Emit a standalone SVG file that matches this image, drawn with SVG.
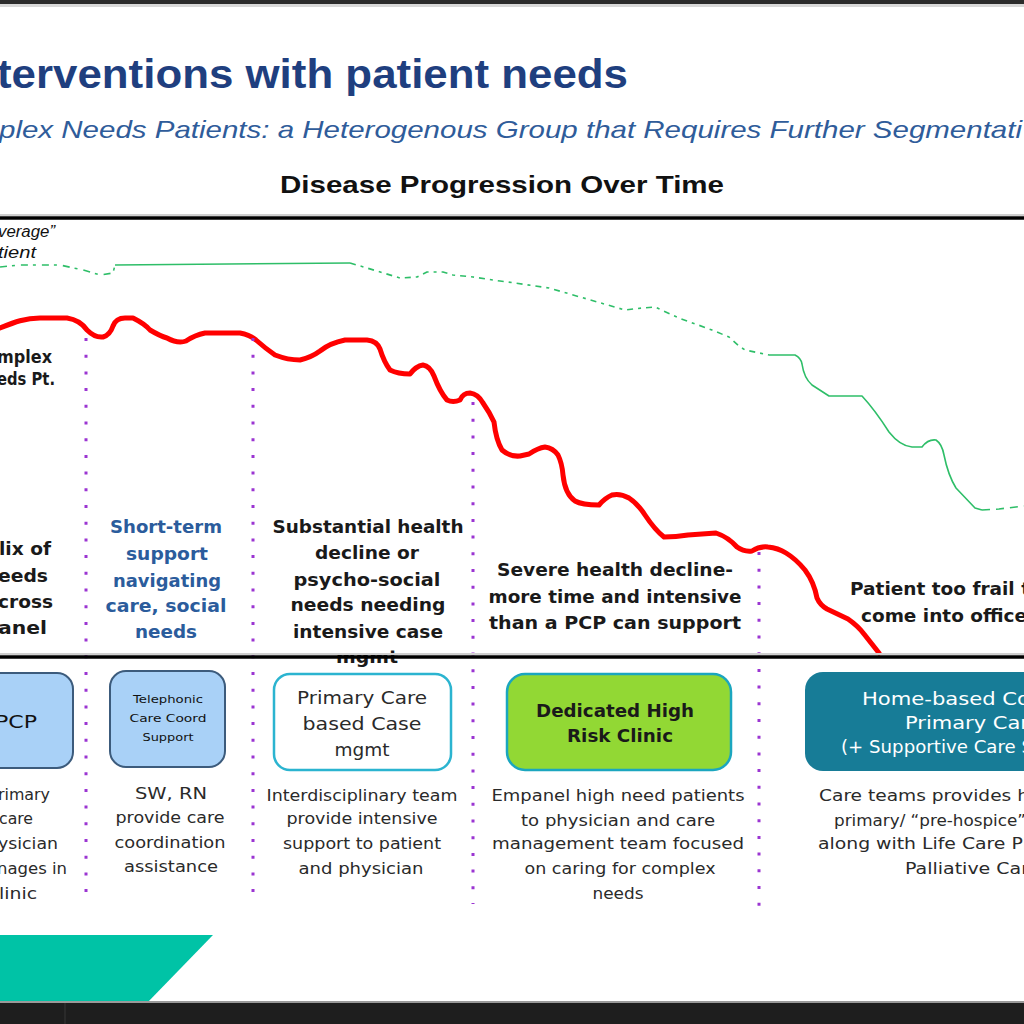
<svg xmlns="http://www.w3.org/2000/svg" width="1024" height="1024" viewBox="0 0 1024 1024">
<style>
.title{font-family:"Liberation Sans",Arial,sans-serif;font-weight:bold;fill:#1F3F7F}
.sub{font-family:"Liberation Sans",Arial,sans-serif;font-style:italic;fill:#2F5C9A}
.hdr{font-family:"DejaVu Sans",Verdana,sans-serif;font-weight:bold;font-size:17px;fill:#1a1a1a}
.hdrb{fill:#2B5C9C}
.desc{font-family:"DejaVu Sans",Verdana,sans-serif;font-size:16px;fill:#2a2a2a}
.box{font-family:"DejaVu Sans",Verdana,sans-serif;font-size:18px}
.lbl{font-family:"Liberation Sans",Arial,sans-serif;font-style:italic;font-size:16px;fill:#111}
.dots{stroke:#9B35D2;stroke-width:3;stroke-dasharray:3 13.7;fill:none}
.green{stroke:#2EBE68;stroke-width:1.6;fill:none;stroke-linejoin:round}
.red{stroke:#FF0000;stroke-width:5;fill:none;stroke-linejoin:round;stroke-linecap:round}
.rule{stroke:#000;stroke-width:3.5}
</style>
<rect x="0" y="0" width="1024" height="1024" fill="#fff"/>
<rect x="0" y="0" width="1024" height="4" fill="#2b2b2b"/>
<rect x="0" y="4" width="1024" height="3" fill="#d8d8d8"/>

<g id="heading">
<text class="title" x="-3" y="88" font-size="41" textLength="631" lengthAdjust="spacingAndGlyphs">terventions with patient needs</text>
<text class="sub" x="-1" y="138" font-size="24" textLength="1023" lengthAdjust="spacingAndGlyphs">plex Needs Patients: a Heterogenous Group that Requires Further Segmentati</text>
<text x="502" y="193" text-anchor="middle" font-family="Liberation Sans,Arial,sans-serif" font-weight="bold" font-size="24" fill="#111" textLength="444" lengthAdjust="spacingAndGlyphs">Disease Progression Over Time</text>
</g>

<rect x="0" y="214" width="1024" height="2" fill="#cfcfcf"/>
<line class="rule" x1="0" y1="218" x2="1024" y2="218"/>

<g id="labels">
<text class="lbl" x="-2" y="237" textLength="57" lengthAdjust="spacingAndGlyphs">verage”</text>
<text class="lbl" x="-2" y="258" textLength="38" lengthAdjust="spacingAndGlyphs">tient</text>
<text class="hdr" x="52" y="363" text-anchor="end" textLength="55" lengthAdjust="spacingAndGlyphs">mplex</text>
<text class="hdr" x="55" y="385" text-anchor="end" textLength="58" lengthAdjust="spacingAndGlyphs">eds Pt.</text>
</g>

<g id="connectors">
<path class="green" stroke-dasharray="7 5 3 6" d="M0,267 L20,265 L60,265 L83,270 L100,275 L113,273 L115,265"/>
<path class="green" d="M115,265 L350,263"/>
<path class="green" stroke-dasharray="6 5 3 5" d="M350,263 L367,268 L400,278 L417,277 L427,272 L443,272 L453,275 L473,277 L500,281 L515,283 L549,288 L625,310 L642,308 L655,307 L679,318 L712,330 L729,337 L739,346 L745,350 L769,355"/>
<path class="green" d="M769,355 L795,355 Q801,358 802,364 Q804,378 812,385 L829,396 L862,396 Q875,410 889,432 Q900,446 912,447 L922,447 Q928,439 936,440 Q942,444 944,455 Q948,475 956,488 L975,508 L982,510"/>
<path class="green" stroke-dasharray="8 6" d="M982,510 L999,509 L1024,506"/>
<path class="red" d="M0,328 C15,322 25,318 40,318 L67,318 Q80,320 87,330 Q95,338 103,337 Q110,335 113,326 Q116,318 125,318 L133,318 Q145,324 150,330 Q160,336 167,338 Q178,344 186,341 Q195,335 205,333 L240,333 Q250,335 256,340 Q265,348 275,355 Q288,360 300,360 Q312,357 320,351 Q330,343 345,340 L367,340 Q377,341 380,349 Q384,362 390,370 Q398,374 410,374 Q416,366 423,365 Q430,366 434,376 Q440,392 447,400 Q453,403 460,400 Q463,393 470,393 Q478,394 483,403 Q490,413 494,422 Q496,440 502,450 Q510,457 520,456 L529,454 Q538,448 545,447 Q553,448 558,455 Q562,463 563,475 Q565,494 575,501 Q582,505 599,505 Q605,498 612,495 Q620,493 629,498 Q638,504 645,515 Q655,530 664,537 Q676,537 688,535 L716,533 Q728,537 737,547 Q744,552 752,551 Q760,546 768,547 Q778,548 786,553 Q796,559 805,570 Q814,582 817,598 Q820,605 827,609 L848,619 Q858,626 864,634 L879,653"/>
<line class="dots" x1="86" y1="338" x2="86" y2="892"/>
<line class="dots" x1="253" y1="338" x2="253" y2="892"/>
<line class="dots" x1="473" y1="402" x2="473" y2="904"/>
<line class="dots" x1="759" y1="552" x2="759" y2="906"/>
</g>

<g id="col1">
<text class="hdr" x="51" y="555" text-anchor="end" textLength="52" lengthAdjust="spacingAndGlyphs">lix of</text>
<text class="hdr" x="48" y="582" text-anchor="end" textLength="50" lengthAdjust="spacingAndGlyphs">eeds</text>
<text class="hdr" x="53" y="608" text-anchor="end" textLength="55" lengthAdjust="spacingAndGlyphs">cross</text>
<text class="hdr" x="47" y="634" text-anchor="end" textLength="49" lengthAdjust="spacingAndGlyphs">anel</text>
</g>
<g id="col2" text-anchor="middle">
<text class="hdr hdrb" x="166" y="533" textLength="112" lengthAdjust="spacingAndGlyphs">Short-term</text>
<text class="hdr hdrb" x="167" y="560" textLength="82" lengthAdjust="spacingAndGlyphs">support</text>
<text class="hdr hdrb" x="167" y="587" textLength="108" lengthAdjust="spacingAndGlyphs">navigating</text>
<text class="hdr hdrb" x="166" y="612" textLength="121" lengthAdjust="spacingAndGlyphs">care, social</text>
<text class="hdr hdrb" x="166" y="638" textLength="62" lengthAdjust="spacingAndGlyphs">needs</text>
</g>
<g id="col3" text-anchor="middle">
<text class="hdr" x="368" y="533" textLength="191" lengthAdjust="spacingAndGlyphs">Substantial health</text>
<text class="hdr" x="367" y="559" textLength="104" lengthAdjust="spacingAndGlyphs">decline or</text>
<text class="hdr" x="367" y="586" textLength="147" lengthAdjust="spacingAndGlyphs">psycho-social</text>
<text class="hdr" x="368" y="611" textLength="155" lengthAdjust="spacingAndGlyphs">needs needing</text>
<text class="hdr" x="368" y="638" textLength="150" lengthAdjust="spacingAndGlyphs">intensive case</text>
<text class="hdr" x="367" y="663" textLength="62" lengthAdjust="spacingAndGlyphs">mgmt</text>
</g>
<g id="col4" text-anchor="middle">
<text class="hdr" x="615" y="576" textLength="236" lengthAdjust="spacingAndGlyphs">Severe health decline-</text>
<text class="hdr" x="615" y="603" textLength="253" lengthAdjust="spacingAndGlyphs">more time and intensive</text>
<text class="hdr" x="615" y="629" textLength="252" lengthAdjust="spacingAndGlyphs">than a PCP can support</text>
</g>
<g id="col5">
<text class="hdr" x="850" y="595" textLength="180" lengthAdjust="spacingAndGlyphs">Patient too frail t</text>
<text class="hdr" x="861" y="622" textLength="166" lengthAdjust="spacingAndGlyphs">come into office</text>
</g>

<rect x="0" y="653" width="1024" height="2" fill="#cfcfcf"/>
<line class="rule" x1="0" y1="657" x2="1024" y2="657"/>

<g id="box-pcp">
<rect x="-30" y="673" width="103" height="95" rx="16" fill="#A9D1F7" stroke="#3C5B7C" stroke-width="2"/>
<text class="box" x="37" y="728" text-anchor="end" font-size="20" style="fill:#111" textLength="42" lengthAdjust="spacingAndGlyphs">PCP</text>
<text class="desc" x="50" y="800" text-anchor="end" textLength="52" lengthAdjust="spacingAndGlyphs">rimary</text>
<text class="desc" x="33" y="824" text-anchor="end" textLength="34" lengthAdjust="spacingAndGlyphs">care</text>
<text class="desc" x="58" y="849" text-anchor="end" textLength="60" lengthAdjust="spacingAndGlyphs">ysician</text>
<text class="desc" x="67" y="874" text-anchor="end" textLength="70" lengthAdjust="spacingAndGlyphs">nages in</text>
<text class="desc" x="37" y="899" text-anchor="end" textLength="38" lengthAdjust="spacingAndGlyphs">linic</text>
</g>

<g id="box-telephonic" text-anchor="middle">
<rect x="110" y="671" width="115" height="96" rx="16" fill="#A9D1F7" stroke="#3C5B7C" stroke-width="2"/>
<text class="box" x="168" y="703" style="fill:#111;font-size:10px" textLength="70" lengthAdjust="spacingAndGlyphs">Telephonic</text>
<text class="box" x="168" y="722" style="fill:#111;font-size:10px" textLength="77" lengthAdjust="spacingAndGlyphs">Care Coord</text>
<text class="box" x="168" y="741" style="fill:#111;font-size:10px" textLength="51" lengthAdjust="spacingAndGlyphs">Support</text>
<text class="desc" x="171" y="799" textLength="72" lengthAdjust="spacingAndGlyphs">SW, RN</text>
<text class="desc" x="170" y="823" textLength="109" lengthAdjust="spacingAndGlyphs">provide care</text>
<text class="desc" x="170" y="848" textLength="111" lengthAdjust="spacingAndGlyphs">coordination</text>
<text class="desc" x="171" y="872" textLength="94" lengthAdjust="spacingAndGlyphs">assistance</text>
</g>

<g id="box-casemgmt" text-anchor="middle">
<rect x="274" y="674" width="177" height="96" rx="16" fill="#fff" stroke="#2BB4D0" stroke-width="2.5"/>
<text class="box" x="362" y="704" style="fill:#2a2a2a" textLength="130" lengthAdjust="spacingAndGlyphs">Primary Care</text>
<text class="box" x="362" y="730" style="fill:#2a2a2a" textLength="119" lengthAdjust="spacingAndGlyphs">based Case</text>
<text class="box" x="362" y="756" style="fill:#2a2a2a" textLength="55" lengthAdjust="spacingAndGlyphs">mgmt</text>
<text class="desc" x="362" y="801" textLength="191" lengthAdjust="spacingAndGlyphs">Interdisciplinary team</text>
<text class="desc" x="362" y="824" textLength="151" lengthAdjust="spacingAndGlyphs">provide intensive</text>
<text class="desc" x="362" y="849" textLength="158" lengthAdjust="spacingAndGlyphs">support to patient</text>
<text class="desc" x="361" y="874" textLength="125" lengthAdjust="spacingAndGlyphs">and physician</text>
</g>

<g id="box-highrisk" text-anchor="middle">
<rect x="507" y="674" width="224" height="96" rx="18" fill="#92D834" stroke="#1BA6BF" stroke-width="2.5"/>
<text class="box" x="615" y="717" font-weight="bold" style="fill:#1a1a1a" textLength="158" lengthAdjust="spacingAndGlyphs">Dedicated High</text>
<text class="box" x="620" y="742" font-weight="bold" style="fill:#1a1a1a" textLength="106" lengthAdjust="spacingAndGlyphs">Risk Clinic</text>
<text class="desc" x="618" y="801" textLength="253" lengthAdjust="spacingAndGlyphs">Empanel high need patients</text>
<text class="desc" x="618" y="826" textLength="194" lengthAdjust="spacingAndGlyphs">to physician and care</text>
<text class="desc" x="618" y="849" textLength="252" lengthAdjust="spacingAndGlyphs">management team  focused</text>
<text class="desc" x="620" y="874" textLength="191" lengthAdjust="spacingAndGlyphs">on caring for complex</text>
<text class="desc" x="618" y="899" textLength="51" lengthAdjust="spacingAndGlyphs">needs</text>
</g>

<g id="box-homebased">
<rect x="805" y="672" width="260" height="99" rx="18" fill="#177C97"/>
<text class="box" x="862" y="705" style="fill:#ffffff" textLength="168" lengthAdjust="spacingAndGlyphs">Home-based Co</text>
<text class="box" x="905" y="729" style="fill:#ffffff" textLength="124" lengthAdjust="spacingAndGlyphs">Primary Car</text>
<text class="box" x="841" y="753" style="fill:#ffffff" textLength="192" lengthAdjust="spacingAndGlyphs">(+ Supportive Care S</text>
<text class="desc" x="819" y="801" textLength="210" lengthAdjust="spacingAndGlyphs">Care teams provides h</text>
<text class="desc" x="834" y="826" textLength="192" lengthAdjust="spacingAndGlyphs">primary/ “pre-hospice”</text>
<text class="desc" x="818" y="849" textLength="210" lengthAdjust="spacingAndGlyphs">along with Life Care Pl</text>
<text class="desc" x="905" y="874" textLength="124" lengthAdjust="spacingAndGlyphs">Palliative Car</text>
</g>

<polygon points="0,935 213,935 147,1003 0,1003" fill="#00C3A6"/>
<rect x="0" y="1001" width="1024" height="3" fill="#9a9a9a"/>
<rect x="0" y="1003" width="1024" height="21" fill="#1E1E1E"/>
<rect x="64" y="1003" width="2" height="21" fill="#2a2a2a"/>
</svg>
